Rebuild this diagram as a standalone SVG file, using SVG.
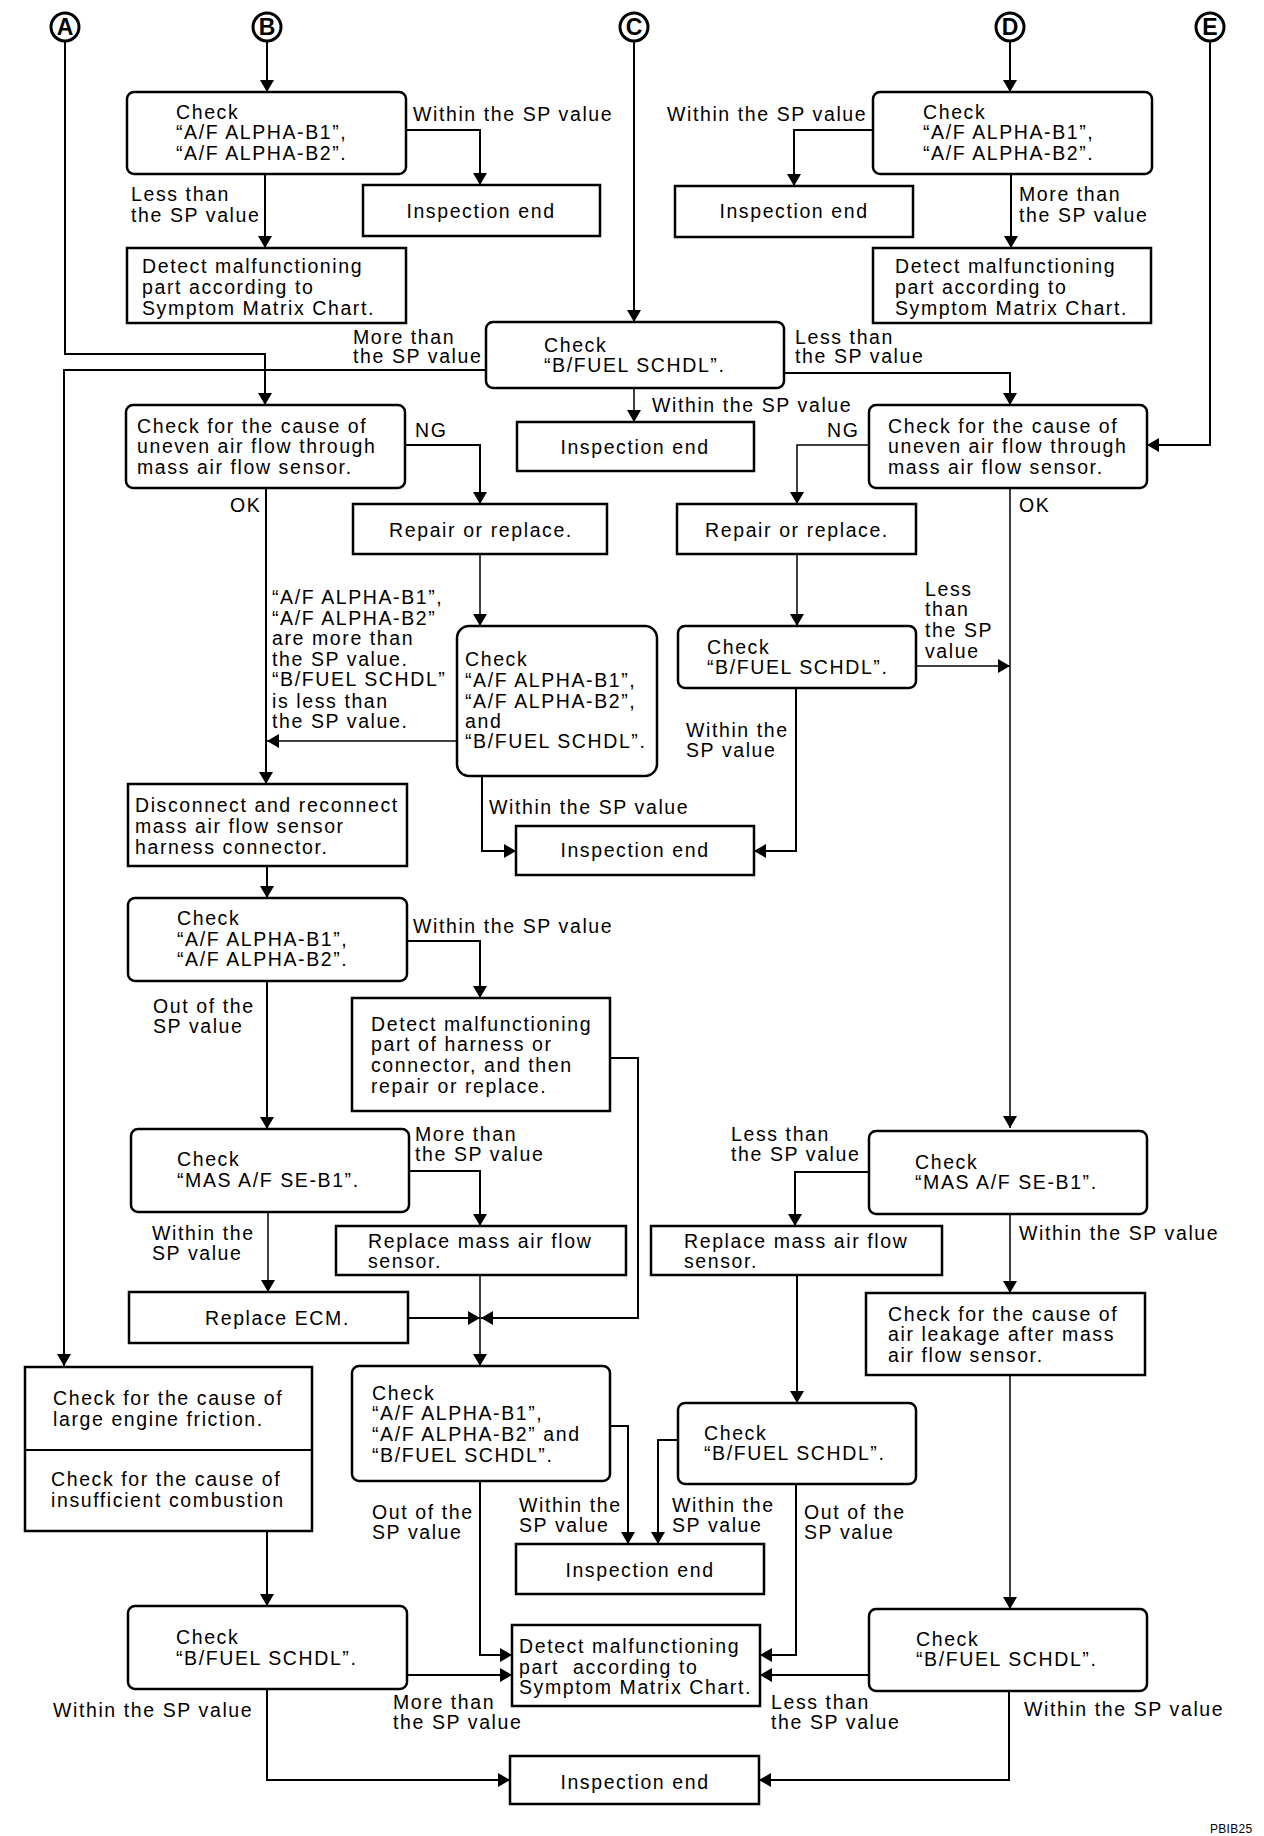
<svg xmlns="http://www.w3.org/2000/svg" width="1264" height="1836" viewBox="0 0 1264 1836">
<style>
text{font-family:"Liberation Sans",Arial,sans-serif;font-size:19.5px;letter-spacing:1.6px;fill:#000}
.b{fill:#fff;stroke:#000;stroke-width:2.5}
.c{fill:none;stroke:#000;stroke-width:2}
.t{fill:none;stroke:#000;stroke-width:1.5}
.m{text-anchor:middle}
.circ{fill:#fff;stroke:#000;stroke-width:3}
.cl{font-weight:bold;font-size:23px;letter-spacing:0;text-anchor:middle}
</style>
<defs>
<marker id="ah" markerWidth="14" markerHeight="14" refX="12" refY="7" orient="auto" markerUnits="userSpaceOnUse"><path d="M0,0 L12,7 L0,14 z" fill="#000"/></marker>
</defs>
<rect width="1264" height="1836" fill="#fff"/>
<g id="connectors">
<path class="c" d="M267,41 V92" marker-end="url(#ah)"/>
<path class="c" d="M406,130 H480 V185" marker-end="url(#ah)"/>
<path class="c" d="M265,174 V248" marker-end="url(#ah)"/>
<path class="c" d="M1010,41 V92" marker-end="url(#ah)"/>
<path class="c" d="M873,130 H794 V186" marker-end="url(#ah)"/>
<path class="c" d="M1011,174 V248" marker-end="url(#ah)"/>
<path class="c" d="M634,41 V322" marker-end="url(#ah)"/>
<path class="t" d="M634,388 V422" marker-end="url(#ah)"/>
<path class="c" d="M486,370 H64 V1366" marker-end="url(#ah)"/>
<path class="c" d="M65,41 V354 H265 V405" marker-end="url(#ah)"/>
<path class="c" d="M784,373 H1010 V405" marker-end="url(#ah)"/>
<path class="c" d="M1210,41 V445 H1147" marker-end="url(#ah)"/>
<path class="c" d="M405,445 H480 V504" marker-end="url(#ah)"/>
<path class="t" d="M869,445 H797 V504" marker-end="url(#ah)"/>
<path class="c" d="M266,488 V784" marker-end="url(#ah)"/>
<path class="t" d="M480,554 V626" marker-end="url(#ah)"/>
<path class="t" d="M457,741 H267" marker-end="url(#ah)"/>
<path class="c" d="M482,776 V851 H516" marker-end="url(#ah)"/>
<path class="t" d="M797,554 V626" marker-end="url(#ah)"/>
<path class="c" d="M796,688 V851 H754" marker-end="url(#ah)"/>
<path class="t" d="M916,666 H1010" marker-end="url(#ah)"/>
<path class="t" d="M1010,488 V1128" marker-end="url(#ah)"/>
<path class="c" d="M267,866 V898" marker-end="url(#ah)"/>
<path class="c" d="M407,941 H480 V998" marker-end="url(#ah)"/>
<path class="c" d="M610,1058 H638 V1318 H481" marker-end="url(#ah)"/>
<path class="c" d="M408,1318 H480" marker-end="url(#ah)"/>
<path class="c" d="M267,981 V1129" marker-end="url(#ah)"/>
<path class="c" d="M409,1171 H480 V1226" marker-end="url(#ah)"/>
<path class="t" d="M268,1212 V1292" marker-end="url(#ah)"/>
<path class="t" d="M480,1275 V1366" marker-end="url(#ah)"/>
<path class="c" d="M869,1172 H795 V1226" marker-end="url(#ah)"/>
<path class="t" d="M1010,1214 V1293" marker-end="url(#ah)"/>
<path class="c" d="M797,1275 V1403" marker-end="url(#ah)"/>
<path class="t" d="M1010,1375 V1609" marker-end="url(#ah)"/>
<path class="c" d="M267,1531 V1606" marker-end="url(#ah)"/>
<path class="c" d="M610,1426 H628 V1544" marker-end="url(#ah)"/>
<path class="c" d="M480,1481 V1655 H512" marker-end="url(#ah)"/>
<path class="c" d="M678,1440 H658 V1544" marker-end="url(#ah)"/>
<path class="c" d="M796,1484 V1655 H760" marker-end="url(#ah)"/>
<path class="c" d="M407,1675 H512" marker-end="url(#ah)"/>
<path class="c" d="M869,1675 H760" marker-end="url(#ah)"/>
<path class="c" d="M267,1689 V1780 H510" marker-end="url(#ah)"/>
<path class="c" d="M1009,1691 V1780 H759" marker-end="url(#ah)"/>
</g>
<g id="labels">
<text x="413" y="121">Within the SP value</text>
<text x="131" y="201">Less than</text><text x="131" y="222">the SP value</text>
<text x="667" y="121">Within the SP value</text>
<text x="1019" y="201">More than</text><text x="1019" y="222">the SP value</text>
<text x="353" y="344">More than</text><text x="353" y="363">the SP value</text>
<text x="795" y="344">Less than</text><text x="795" y="363">the SP value</text>
<text x="652" y="412">Within the SP value</text>
<text x="415" y="437">NG</text>
<text x="827" y="437">NG</text>
<text x="230" y="512">OK</text>
<text x="1019" y="512">OK</text>
<text x="272" y="604">“A/F ALPHA-B1”,</text>
<text x="272" y="625">“A/F ALPHA-B2”</text>
<text x="272" y="645">are more than</text>
<text x="272" y="666">the SP value.</text>
<text x="272" y="686">“B/FUEL SCHDL”</text>
<text x="272" y="708">is less than</text>
<text x="272" y="728">the SP value.</text>
<text x="925" y="596">Less</text><text x="925" y="616">than</text><text x="925" y="637">the SP</text><text x="925" y="658">value</text>
<text x="686" y="737">Within the</text><text x="686" y="757">SP value</text>
<text x="489" y="814">Within the SP value</text>
<text x="413" y="933">Within the SP value</text>
<text x="153" y="1013">Out of the</text><text x="153" y="1033">SP value</text>
<text x="415" y="1141">More than</text><text x="415" y="1161">the SP value</text>
<text x="152" y="1240">Within the</text><text x="152" y="1260">SP value</text>
<text x="731" y="1141">Less than</text><text x="731" y="1161">the SP value</text>
<text x="1019" y="1240">Within the SP value</text>
<text x="372" y="1519">Out of the</text><text x="372" y="1539">SP value</text>
<text x="519" y="1512">Within the</text><text x="519" y="1532">SP value</text>
<text x="672" y="1512">Within the</text><text x="672" y="1532">SP value</text>
<text x="804" y="1519">Out of the</text><text x="804" y="1539">SP value</text>
<text x="53" y="1717">Within the SP value</text>
<text x="393" y="1709">More than</text><text x="393" y="1729">the SP value</text>
<text x="771" y="1709">Less than</text><text x="771" y="1729">the SP value</text>
<text x="1024" y="1716">Within the SP value</text>
<text x="1210" y="1833" style="font-size:12px;letter-spacing:0.3px">PBIB25</text>
</g>
<g id="conA"><circle class="circ" cx="65" cy="27" r="14"/><text class="cl" x="65" y="35">A</text></g>
<g id="conB"><circle class="circ" cx="267" cy="27" r="14"/><text class="cl" x="267" y="35">B</text></g>
<g id="conC"><circle class="circ" cx="634" cy="27" r="14"/><text class="cl" x="634" y="35">C</text></g>
<g id="conD"><circle class="circ" cx="1010" cy="27" r="14"/><text class="cl" x="1010" y="35">D</text></g>
<g id="conE"><circle class="circ" cx="1210" cy="27" r="14"/><text class="cl" x="1210" y="35">E</text></g>
<g id="n1"><rect class="b" x="127" y="92" width="279" height="82" rx="7"/><text x="176" y="119">Check</text><text x="176" y="139">“A/F ALPHA-B1”,</text><text x="176" y="160">“A/F ALPHA-B2”.</text></g>
<g id="n2"><rect class="b" x="363" y="185" width="237" height="51"/><text class="m" x="481" y="218">Inspection end</text></g>
<g id="n3"><rect class="b" x="127" y="248" width="279" height="75"/><text x="142" y="273">Detect malfunctioning</text><text x="142" y="294">part according to</text><text x="142" y="315">Symptom Matrix Chart.</text></g>
<g id="n4"><rect class="b" x="873" y="92" width="279" height="82" rx="7"/><text x="923" y="119">Check</text><text x="923" y="139">“A/F ALPHA-B1”,</text><text x="923" y="160">“A/F ALPHA-B2”.</text></g>
<g id="n5"><rect class="b" x="675" y="186" width="238" height="51"/><text class="m" x="794" y="218">Inspection end</text></g>
<g id="n6"><rect class="b" x="873" y="248" width="278" height="75"/><text x="895" y="273">Detect malfunctioning</text><text x="895" y="294">part according to</text><text x="895" y="315">Symptom Matrix Chart.</text></g>
<g id="n7"><rect class="b" x="486" y="322" width="298" height="66" rx="7"/><text x="544" y="352">Check</text><text x="544" y="372">“B/FUEL SCHDL”.</text></g>
<g id="n8"><rect class="b" x="517" y="422" width="237" height="49"/><text class="m" x="635" y="454">Inspection end</text></g>
<g id="n9"><rect class="b" x="126" y="405" width="279" height="83" rx="7"/><text x="137" y="433">Check for the cause of</text><text x="137" y="453">uneven air flow through</text><text x="137" y="474">mass air flow sensor.</text></g>
<g id="n10"><rect class="b" x="869" y="405" width="278" height="83" rx="7"/><text x="888" y="433">Check for the cause of</text><text x="888" y="453">uneven air flow through</text><text x="888" y="474">mass air flow sensor.</text></g>
<g id="n11"><rect class="b" x="353" y="504" width="254" height="50"/><text class="m" x="481" y="537">Repair or replace.</text></g>
<g id="n12"><rect class="b" x="677" y="504" width="239" height="50"/><text class="m" x="797" y="537">Repair or replace.</text></g>
<g id="n13"><rect class="b" x="457" y="626" width="200" height="150" rx="12"/><text x="465" y="666">Check</text><text x="465" y="687">“A/F ALPHA-B1”,</text><text x="465" y="708">“A/F ALPHA-B2”,</text><text x="465" y="728">and</text><text x="465" y="748">“B/FUEL SCHDL”.</text></g>
<g id="n14"><rect class="b" x="678" y="626" width="238" height="62" rx="7"/><text x="707" y="654">Check</text><text x="707" y="674">“B/FUEL SCHDL”.</text></g>
<g id="n15"><rect class="b" x="516" y="826" width="238" height="49"/><text class="m" x="635" y="857">Inspection end</text></g>
<g id="n16"><rect class="b" x="128" y="784" width="279" height="82"/><text x="135" y="812">Disconnect and reconnect</text><text x="135" y="833">mass air flow sensor</text><text x="135" y="854">harness connector.</text></g>
<g id="n17"><rect class="b" x="128" y="898" width="279" height="83" rx="7"/><text x="177" y="925">Check</text><text x="177" y="946">“A/F ALPHA-B1”,</text><text x="177" y="966">“A/F ALPHA-B2”.</text></g>
<g id="n18"><rect class="b" x="352" y="998" width="258" height="113"/><text x="371" y="1031">Detect malfunctioning</text><text x="371" y="1051">part of harness or</text><text x="371" y="1072">connector, and then</text><text x="371" y="1093">repair or replace.</text></g>
<g id="n19"><rect class="b" x="131" y="1129" width="278" height="83" rx="7"/><text x="177" y="1166">Check</text><text x="177" y="1187">“MAS A/F SE-B1”.</text></g>
<g id="n20"><rect class="b" x="336" y="1226" width="290" height="49"/><text x="368" y="1248">Replace mass air flow</text><text x="368" y="1268">sensor.</text></g>
<g id="n21"><rect class="b" x="129" y="1292" width="279" height="51"/><text x="205" y="1325">Replace ECM.</text></g>
<g id="n22"><rect class="b" x="869" y="1131" width="278" height="83" rx="7"/><text x="915" y="1169">Check</text><text x="915" y="1189">“MAS A/F SE-B1”.</text></g>
<g id="n23"><rect class="b" x="651" y="1226" width="291" height="49"/><text x="684" y="1248">Replace mass air flow</text><text x="684" y="1268">sensor.</text></g>
<g id="n24"><rect class="b" x="866" y="1293" width="279" height="82"/><text x="888" y="1321">Check for the cause of</text><text x="888" y="1341">air leakage after mass</text><text x="888" y="1362">air flow sensor.</text></g>
<g id="n25"><rect class="b" x="25" y="1367" width="287" height="164"/><line class="c" x1="25" y1="1450" x2="312" y2="1450"/><text x="53" y="1405">Check for the cause of</text><text x="53" y="1426">large engine friction.</text><text x="51" y="1486">Check for the cause of</text><text x="51" y="1507">insufficient combustion</text></g>
<g id="n26"><rect class="b" x="352" y="1366" width="258" height="115" rx="7"/><text x="372" y="1400">Check</text><text x="372" y="1420">“A/F ALPHA-B1”,</text><text x="372" y="1441">“A/F ALPHA-B2” and</text><text x="372" y="1462">“B/FUEL SCHDL”.</text></g>
<g id="n27"><rect class="b" x="678" y="1403" width="238" height="81" rx="7"/><text x="704" y="1440">Check</text><text x="704" y="1460">“B/FUEL SCHDL”.</text></g>
<g id="n28"><rect class="b" x="516" y="1544" width="248" height="50"/><text class="m" x="640" y="1577">Inspection end</text></g>
<g id="n29"><rect class="b" x="512" y="1625" width="248" height="81"/><text x="519" y="1653">Detect malfunctioning</text><text x="519" y="1674" style="white-space:pre">part  according to</text><text x="519" y="1694">Symptom Matrix Chart.</text></g>
<g id="n30"><rect class="b" x="128" y="1606" width="279" height="83" rx="7"/><text x="176" y="1644">Check</text><text x="176" y="1665">“B/FUEL SCHDL”.</text></g>
<g id="n31"><rect class="b" x="869" y="1609" width="278" height="82" rx="7"/><text x="916" y="1646">Check</text><text x="916" y="1666">“B/FUEL SCHDL”.</text></g>
<g id="n32"><rect class="b" x="510" y="1756" width="249" height="48"/><text class="m" x="635" y="1789">Inspection end</text></g>
</svg>
